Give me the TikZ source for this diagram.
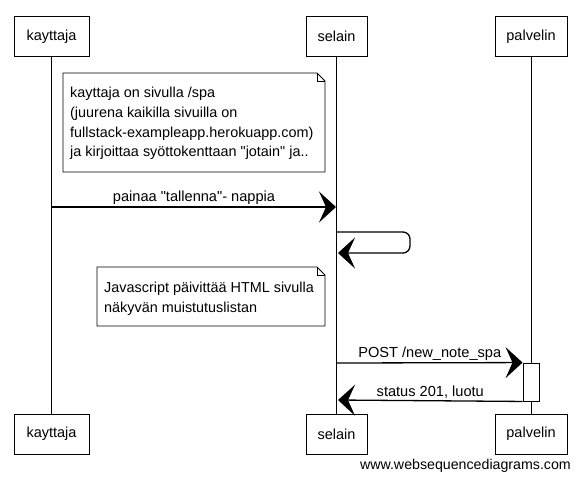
\documentclass[tikz,border=0pt]{standalone}
\usepackage{fontspec}
\setmainfont{Liberation Sans}[Ligatures=TeXOff]
\usetikzlibrary{arrows.meta}
\begin{document}
\begin{tikzpicture}[x=1pt,y=-1pt,
  font=\fontsize{14.6}{17}\selectfont,
  actor/.style={draw, line width=0.9pt, minimum height=40pt, inner sep=0pt, fill=white, font=\fontsize{14.5}{17}\selectfont},
  life/.style={line width=0.9pt},
  msg/.style={line width=1.3pt, -{Stealth[length=17pt,width=31pt,inset=7pt]}},
  notefr/.style={draw, line width=0.9pt, fill=white, line join=round},
  notetext/.style={align=left, inner sep=0pt, font=\fontsize{14.4}{19.7}\selectfont},
  lbl/.style={above, inner sep=2pt}]
\useasboundingbox (0,0) rectangle (580,480);

% participants
\node[actor, minimum width=75pt] (k1) at (51.5,36.5) {kayttaja};
\node[actor, minimum width=61pt] (s1) at (336.5,36.5) {selain};
\node[actor, minimum width=72pt] (p1) at (531,36.5) {palvelin};
\node[actor, minimum width=75pt] (k2) at (51.5,434) {kayttaja};
\node[actor, minimum width=61pt] (s2) at (336.5,434) {selain};
\node[actor, minimum width=72pt] (p2) at (531,434) {palvelin};

% lifelines
\draw[life] (k1.south) -- (k2.north);
\draw[life] (s1.south) -- (s2.north);
\draw[life] (p1.south) -- (p2.north);

% note 1
\draw[notefr] (63,73) -- (317,73) -- (325,81) -- (325,172) -- (63,172) -- cycle;
\draw[line width=0.7pt] (317,73) -- (317,81) -- (325,81);
\node[notetext, anchor=west] (n1) at (70,123.5) {kayttaja on sivulla /spa\\(juurena kaikilla sivuilla on\\fullstack-exampleapp.herokuapp.com)\\ja kirjoittaa syöttokenttaan "jotain" ja..};

% message 1
\coordinate (m1a) at (52,207);
\coordinate (m1b) at (336,207);
\draw[msg] (m1a) -- node[lbl] {painaa "tallenna"- nappia} (m1b);

% self message
\coordinate (sa) at (337,232);
\coordinate (sb) at (338,253);
\draw[msg, rounded corners=7pt] (sa) -- (410,232) -- (410,253) -- (sb);

% note 2
\draw[notefr] (97,267) -- (317,267) -- (325,275) -- (325,326) -- (97,326) -- cycle;
\draw[line width=0.7pt] (317,267) -- (317,275) -- (325,275);
\node[notetext, anchor=west] (n2) at (104,298.5) {Javascript päivittää HTML sivulla\\näkyvän muistutuslistan};

% activation
\node[draw, line width=0.9pt, fill=white, minimum width=16pt, minimum height=38pt, inner sep=0pt] (act) at (531,382) {};

% POST
\coordinate (pa) at (337,363);
\draw[msg] (pa) -- node[lbl] {POST /new\_note\_spa} (act.north west);

% return
\coordinate (ra) at (338,400);
\draw[msg] (act.south west) -- node[lbl] {status 201, luotu} (ra);

% watermark
\node[anchor=east, inner sep=0pt, font=\fontsize{14.2}{17}\selectfont] (wm) at (571,466) {www.websequencediagrams.com};
\end{tikzpicture}
\end{document}
